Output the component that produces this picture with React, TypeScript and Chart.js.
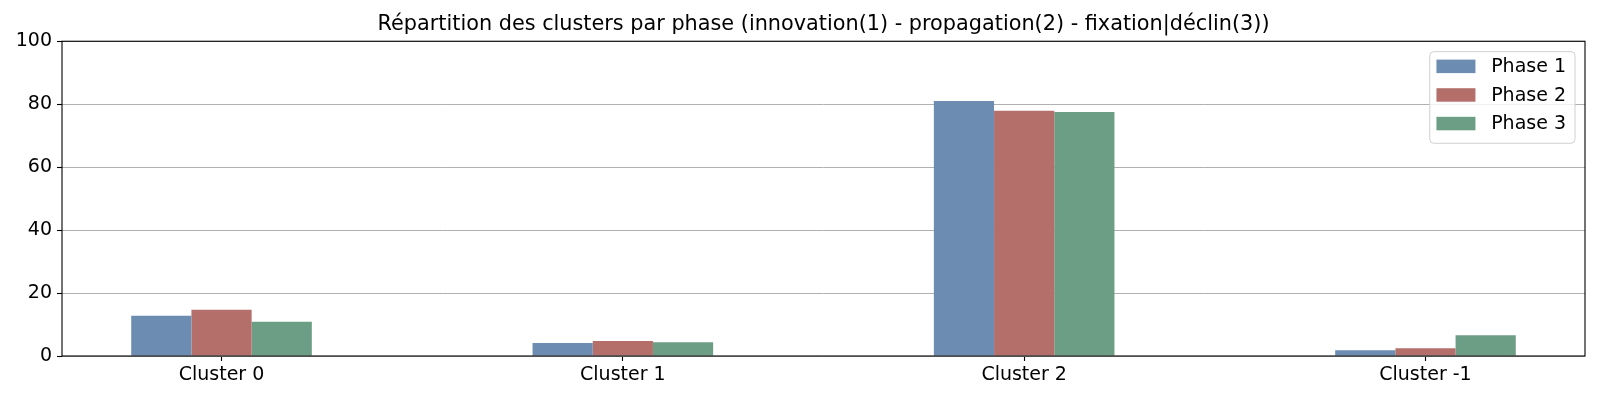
import { useEffect, useRef } from 'react';
import { Chart, registerables } from 'chart.js';

Chart.register(...registerables);

// data
const clusters = ['Cluster 0', 'Cluster 1', 'Cluster 2', 'Cluster -1'];
const phaseLabels = ['Phase 1', 'Phase 2', 'Phase 3'];
const phase1 = [12.8, 4.1, 81.0, 1.8];
const phase2 = [14.7, 4.8, 77.9, 2.5];
const phase3 = [10.9, 4.4, 77.5, 6.6];
const yTicks = [0, 20, 40, 60, 80, 100];

const colors = ['#6d8cb2', '#b46f6b', '#6b9e84'];
const FONT = '"DejaVu Sans", sans-serif';

// matplotlib-like legend box in the upper right corner of the axes
const boxLegend = {
  id: 'boxLegend',
  afterDatasetsDraw(chart: any) {
    const { ctx, chartArea } = chart;
    const sets = chart.data.datasets;
    ctx.save();
    ctx.font = `19px ${FONT}`;
    const textW = Math.max(...sets.map((d: any) => ctx.measureText(d.label).width));
    const swW = 39, swH = 13.5, rowH = 28.6;
    const w = 6.7 + swW + 15.7 + textW + 9;
    const h = 91.6;
    const x = chartArea.right - 10 - w;
    const y = chartArea.top + 10.4;
    ctx.beginPath();
    ctx.roundRect(x, y, w, h, 4);
    ctx.fillStyle = 'rgba(255,255,255,0.8)';
    ctx.fill();
    ctx.strokeStyle = '#d0d0d0';
    ctx.lineWidth = 1;
    ctx.stroke();
    ctx.textBaseline = 'middle';
    ctx.textAlign = 'left';
    sets.forEach((d: any, i: number) => {
      const cy = y + 14.7 + i * rowH;
      ctx.fillStyle = d.backgroundColor;
      ctx.fillRect(x + 6.7, cy - swH / 2, swW, swH);
      ctx.fillStyle = '#000';
      ctx.fillText(d.label, x + 6.7 + swW + 15.7, cy + 1);
    });
    ctx.restore();
  },
};

// closed box around the plot area
const frame = {
  id: 'frame',
  afterDatasetsDraw(chart: any) {
    const { ctx, chartArea } = chart;
    ctx.save();
    ctx.strokeStyle = '#000';
    ctx.lineWidth = 1.1;
    ctx.strokeRect(chartArea.left, chartArea.top, chartArea.right - chartArea.left, chartArea.bottom - chartArea.top);
    ctx.restore();
  },
};

const App = () => {
  const canvasRef = useRef<HTMLCanvasElement>(null);
  const chartRef = useRef<Chart | null>(null);

  useEffect(() => {
    document.body.style.margin = '0';
    if (!canvasRef.current) return;
    if (chartRef.current) chartRef.current.destroy();

    const series = [phase1, phase2, phase3];

    chartRef.current = new Chart(canvasRef.current, {
      type: 'bar',
      data: {
        datasets: series.map((vals, s) => ({
          label: phaseLabels[s],
          data: vals.map((v, i) => ({ x: i, y: v })),
          backgroundColor: colors[s],
          borderWidth: 0,
          categoryPercentage: 0.45,
          barPercentage: 1,
        })),
      },
      options: {
        animation: false,
        responsive: true,
        maintainAspectRatio: false,
        layout: { padding: { left: 0, right: 15, top: 0, bottom: 0 } },
        plugins: {
          legend: { display: false },
          tooltip: { enabled: false },
          title: {
            display: true,
            fullSize: false, // centred over the axes, like matplotlib
            text: 'Répartition des clusters par phase (innovation(1) - propagation(2) - fixation|déclin(3))',
            color: '#000',
            font: { family: FONT, size: 20.8, weight: 'normal', lineHeight: 1.2 },
            padding: { top: 12.5, bottom: 3.8 },
          },
        },
        scales: {
          x: {
            type: 'linear',
            min: -0.3975,
            max: 3.3975,
            offset: false,
            afterBuildTicks: (s: any) => {
              s.ticks = clusters.map((_, i) => ({ value: i }));
            },
            afterFit: (s: any) => {
              s.height = 44;
            },
            grid: { offset: false, drawOnChartArea: false, tickLength: 5, tickColor: '#000', tickWidth: 1.1 },
            border: { display: false },
            ticks: {
              color: '#000',
              font: { family: FONT, size: 19 },
              padding: 3,
              maxRotation: 0,
              callback: (v: any) => clusters[v] ?? '',
            },
          },
          y: {
            min: 0,
            max: 100,
            afterBuildTicks: (s: any) => {
              s.ticks = yTicks.map((v) => ({ value: v }));
            },
            afterFit: (s: any) => {
              s.width = 62;
            },
            grid: { color: '#b0b0b0', lineWidth: 1, tickLength: 5, tickColor: '#000', tickWidth: 1.1 },
            border: { display: false },
            ticks: {
              color: '#000',
              font: { family: FONT, size: 19 },
              padding: 5,
            },
          },
        },
      },
      plugins: [frame, boxLegend],
    });

    return () => {
      if (chartRef.current) {
        chartRef.current.destroy();
        chartRef.current = null;
      }
    };
  }, []);

  return (
    <div style={{ position: 'relative', width: 1600, height: 400, background: '#fff' }}>
      <canvas ref={canvasRef}></canvas>
    </div>
  );
};

export default App;
